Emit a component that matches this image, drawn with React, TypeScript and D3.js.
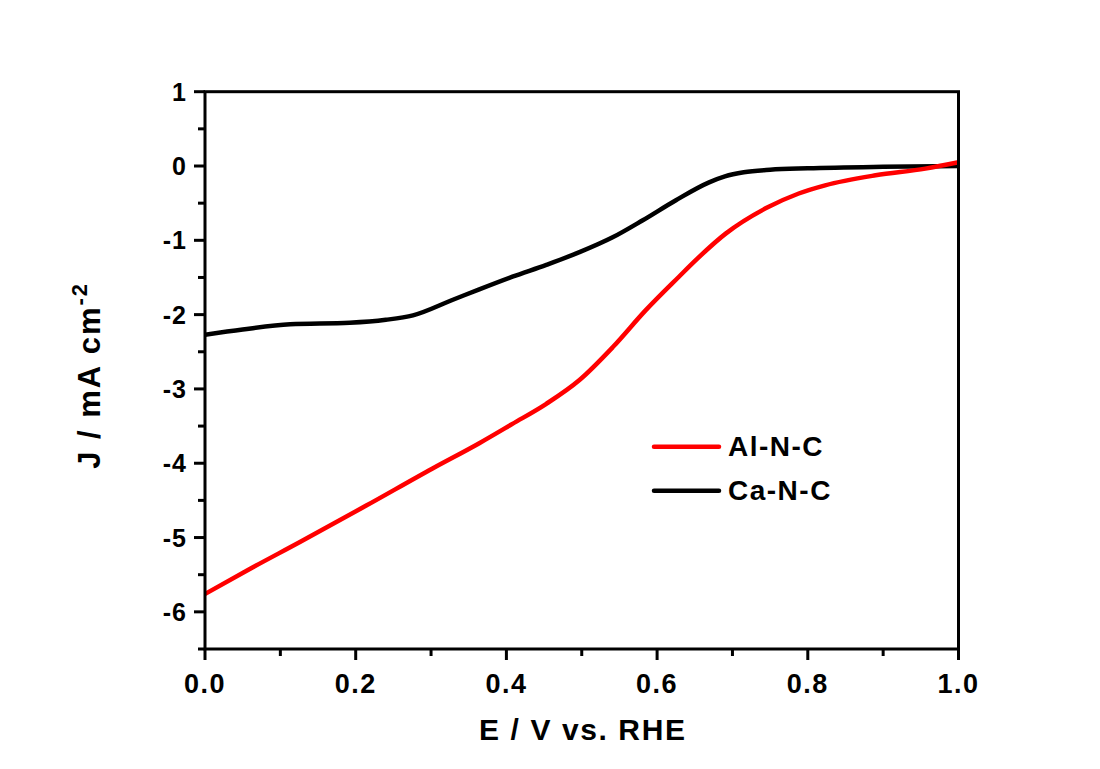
import React from "react";
import * as d3 from "d3";

const caV = [0, 0.05, 0.113, 0.192, 0.24, 0.276, 0.329, 0.364, 0.408, 0.453, 0.497, 0.541, 0.581, 0.625, 0.669, 0.69, 0.715, 0.75, 0.8, 0.9, 1.0];
const caJ = [-2.27, -2.2, -2.13, -2.11, -2.07, -2.01, -1.8, -1.66, -1.49, -1.33, -1.16, -0.96, -0.73, -0.46, -0.22, -0.14, -0.085, -0.05, -0.03, -0.01, 0];
const alV = [0, 0.06, 0.126, 0.214, 0.302, 0.364, 0.408, 0.453, 0.497, 0.541, 0.585, 0.629, 0.651, 0.691, 0.744, 0.788, 0.823, 0.89, 0.956, 1.0];
const alJ = [-5.76, -5.42, -5.06, -4.57, -4.07, -3.73, -3.47, -3.2, -2.88, -2.44, -1.94, -1.49, -1.27, -0.91, -0.57, -0.37, -0.26, -0.125, -0.035, 0.05];
const xTicks = [0, 0.2, 0.4, 0.6, 0.8, 1.0];
const xMinor = [0.1, 0.3, 0.5, 0.7, 0.9];
const yTicks = [1, 0, -1, -2, -3, -4, -5, -6];
const yMinor = [0.5, -0.5, -1.5, -2.5, -3.5, -4.5, -5.5, -6.5];
const seriesNames = ["Al-N-C", "Ca-N-C"];
const seriesColors = ["#ff0000", "#000000"];

const L = 205, R = 958.5, T = 91.7, B = 649;
const FONT = "'Liberation Sans', Arial, sans-serif";

export default function App() {
  const x = d3.scaleLinear().domain([0, 1]).range([L, R]);
  const y = d3.scaleLinear().domain([-6.5, 1]).range([B, T]);
  const line = d3
    .line<[number, number]>()
    .x((d) => x(d[0]))
    .y((d) => y(d[1]))
    .curve(d3.curveMonotoneX);
  const alPts = alV.map((v, i) => [v, alJ[i]] as [number, number]);
  const caPts = caV.map((v, i) => [v, caJ[i]] as [number, number]);

  return (
    <svg
      width={1100}
      height={769}
      style={{ position: "absolute", left: 0, top: 0, background: "#fff" }}
      fontFamily={FONT}
      fontWeight="bold"
    >
      <rect x={0} y={0} width={1100} height={769} fill="#fff" />
      <defs>
        <clipPath id="plot">
          <rect x={L} y={T} width={R - L} height={B - T} />
        </clipPath>
      </defs>
      <g clipPath="url(#plot)">
        <path d={line(caPts) || ""} fill="none" stroke={seriesColors[1]} strokeWidth={4.5} strokeLinejoin="round" />
        <path d={line(alPts) || ""} fill="none" stroke={seriesColors[0]} strokeWidth={4.5} strokeLinejoin="round" />
      </g>
      <rect x={L} y={T} width={R - L} height={B - T} fill="none" stroke="#000" strokeWidth={3} />
      {yTicks.map((t) => (
        <g key={"y" + t}>
          <line x1={L - 11} x2={L} y1={y(t)} y2={y(t)} stroke="#000" strokeWidth={3} />
          <text x={L - 18} y={y(t)} dy="0.36em" textAnchor="end" fontSize={25} letterSpacing={1}>
            {t}
          </text>
        </g>
      ))}
      {yMinor.map((t) => (
        <line key={"ym" + t} x1={L - 7} x2={L} y1={y(t)} y2={y(t)} stroke="#000" strokeWidth={3} />
      ))}
      {xTicks.map((t) => (
        <g key={"x" + t}>
          <line x1={x(t)} x2={x(t)} y1={B} y2={B + 11} stroke="#000" strokeWidth={3} />
          <text x={x(t)} y={693} textAnchor="middle" fontSize={27} letterSpacing={1.5}>
            {t.toFixed(1)}
          </text>
        </g>
      ))}
      {xMinor.map((t) => (
        <line key={"xm" + t} x1={x(t)} x2={x(t)} y1={B} y2={B + 7} stroke="#000" strokeWidth={3} />
      ))}
      <text x={(L + R) / 2 + 1} y={740} textAnchor="middle" fontSize={30} letterSpacing={1.6}>
        E / V vs. RHE
      </text>
      <text
        transform={`translate(100, ${(T + B) / 2 + 5}) rotate(-90)`}
        textAnchor="middle"
        fontSize={31}
        letterSpacing={2}
      >
        J / mA cm<tspan dy={-13} fontSize={22}>-2</tspan>
      </text>
      {seriesNames.map((n, i) => (
        <g key={n}>
          <line x1={654} x2={719} y1={446.7 + i * 44} y2={446.7 + i * 44} stroke={seriesColors[i]} strokeWidth={4.5} strokeLinecap="round" />
          <text x={728} y={456 + i * 44} fontSize={28} letterSpacing={1.5}>
            {n}
          </text>
        </g>
      ))}
    </svg>
  );
}
